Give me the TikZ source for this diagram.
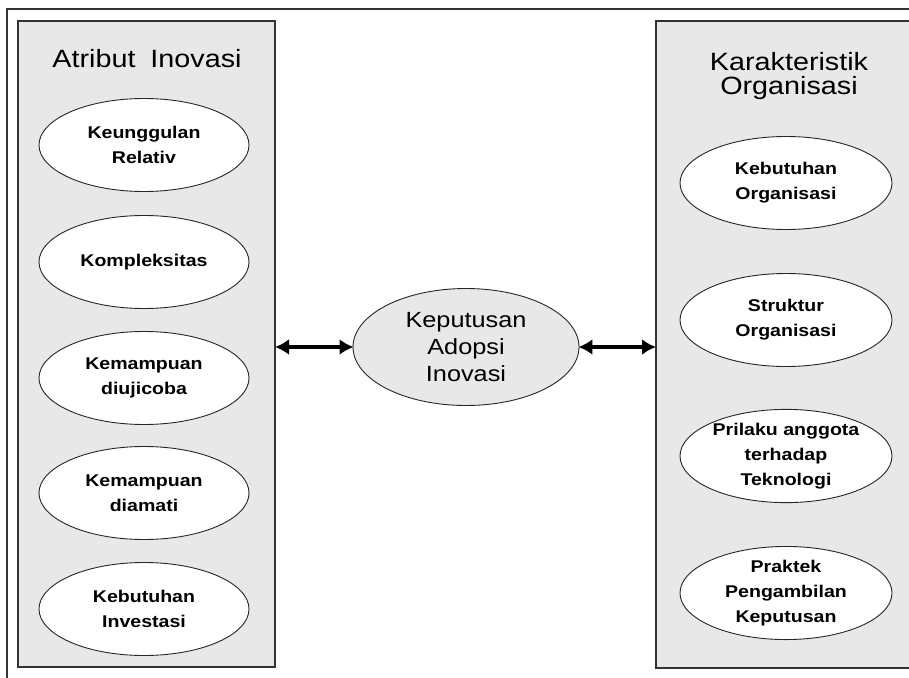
\documentclass[tikz,border=0pt]{standalone}
\usepackage{fontspec}
\setmainfont{Liberation Sans}[FakeStretch=1.15]
\usetikzlibrary{shapes.geometric,arrows.meta}
\definecolor{panelgray}{HTML}{E8E8E8}
\definecolor{linegray}{HTML}{333333}
\tikzset{
  x=1pt,y=-1pt,
  panel/.style={draw=linegray,line width=2pt,fill=panelgray,rectangle,inner sep=0pt,anchor=north west},
  item/.style={draw=black!85,line width=0.9pt,fill=white,ellipse,inner sep=0pt,
    minimum width=210pt,minimum height=93pt,align=center,
    font=\bfseries\fontsize{17}{25}\selectfont},
  title/.style={align=center,font=\fontsize{25}{24}\selectfont,inner sep=0pt},
  arr/.style={line width=3.4pt,{Latex[length=14pt,width=16pt]}-{Latex[length=14pt,width=16pt]},shorten <=-1pt,shorten >=-1pt}
}
\begin{document}
\begin{tikzpicture}
\useasboundingbox (0,0) rectangle (909,677);
\begin{scope}
\clip (0,0) rectangle (909,677);
\draw[linegray,line width=2pt] (7,690) -- (7,9) -- (920,9);
\node[panel,minimum width=257pt,minimum height=646pt] (lp) at (17,20) {};
\node[panel,minimum width=270pt,minimum height=647pt] (rp) at (655,20) {};
\end{scope}
\node[title,anchor=base] (lt) at (147,67) {Atribut\hspace{0.6em}Inovasi};
\node[title,anchor=base] (rt) at (789,94) {Karakteristik\\Organisasi};
\node[item] (a1) at (144,145) {Keunggulan\\Relativ};
\node[item] (a2) at (144,262) {Kompleksitas};
\node[item] (a3) at (144,378) {Kemampuan\\diujicoba};
\node[item] (a4) at (144,493) {Kemampuan\\diamati};
\node[item] (a5) at (144,609) {Kebutuhan\\Investasi};
\node[item,minimum width=212pt] (b1) at (786,183) {Kebutuhan\\Organisasi};
\node[item,minimum width=212pt] (b2) at (786,320) {Struktur\\Organisasi};
\node[item,minimum width=212pt] (b3) at (786,456) {Prilaku anggota\\terhadap\\Teknologi};
\node[item,minimum width=212pt] (b4) at (786,593) {Praktek\\Pengambilan\\Keputusan};
\node[draw=black!85,line width=0.9pt,fill=panelgray,ellipse,inner sep=0pt,
  minimum width=226pt,minimum height=117pt,align=center,
  font=\fontsize{22}{27}\selectfont] (c) at (466,347) {Keputusan\\Adopsi\\Inovasi};
\draw[arr] (lp.east |- c.west) -- (c.west);
\draw[arr] (c.east) -- (rp.west |- c.east);
\end{tikzpicture}
\end{document}
